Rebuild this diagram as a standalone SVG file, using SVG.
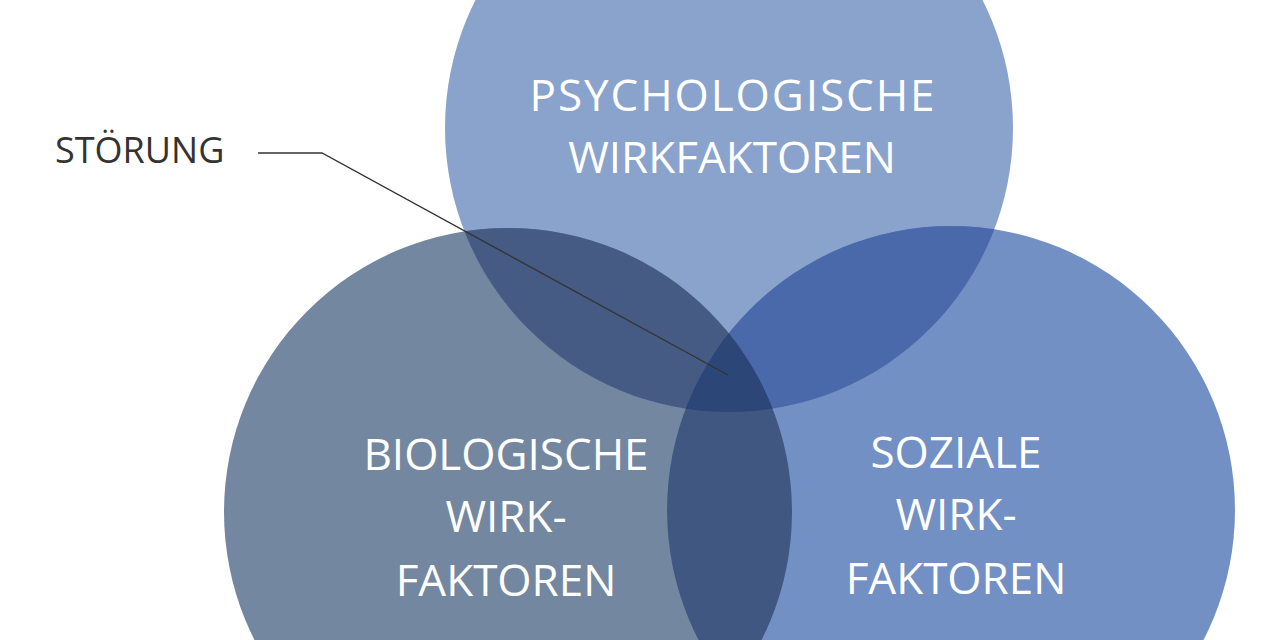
<svg xmlns="http://www.w3.org/2000/svg" width="1280" height="640" viewBox="0 0 1280 640">
<style>
.l{font-family:"Open Sans","Liberation Sans",sans-serif;font-size:44px;fill:#fff;text-anchor:middle}
</style>
<defs>
<clipPath id="cT"><circle cx="729" cy="128" r="284"/></clipPath>
<clipPath id="cL"><circle cx="508" cy="512" r="284"/></clipPath>
<clipPath id="cR"><circle cx="951" cy="510" r="284"/></clipPath>
</defs>
<rect width="1280" height="640" fill="#fff"/>
<g id="top"><circle cx="729" cy="128" r="284" fill="#8aa3cc"/></g>
<g id="left"><circle cx="508" cy="512" r="284" fill="#7487a0"/></g>
<g id="right"><circle cx="951" cy="510" r="284" fill="#7390c4"/></g>
<g id="overlaps">
<g clip-path="url(#cT)"><circle cx="508" cy="512" r="284" fill="#455b84"/><circle cx="951" cy="510" r="284" fill="#4a69ab"/></g>
<g clip-path="url(#cL)"><circle cx="951" cy="510" r="284" fill="#405782"/></g>
<g clip-path="url(#cT)"><g clip-path="url(#cL)"><circle cx="951" cy="510" r="284" fill="#2b4677"/></g></g>
</g>
<g id="labels">
<text class="l" x="732" y="111" textLength="405">PSYCHOLOGISCHE</text>
<text class="l" x="732" y="173">WIRKFAKTOREN</text>
<text class="l" x="506" y="470">BIOLOGISCHE</text>
<text class="l" x="506" y="532">WIRK-</text>
<text class="l" x="506" y="596">FAKTOREN</text>
<text class="l" x="956" y="468">SOZIALE</text>
<text class="l" x="956" y="530">WIRK-</text>
<text class="l" x="956" y="594">FAKTOREN</text>
</g>
<g id="stoerung"><text x="55" y="163" font-family="Open Sans,Liberation Sans,sans-serif" font-size="36" fill="#333">STÖRUNG</text></g>
<g id="connectors"><polyline points="258,153 322,153 728,375" fill="none" stroke="#333" stroke-width="1.3"/></g>
</svg>
